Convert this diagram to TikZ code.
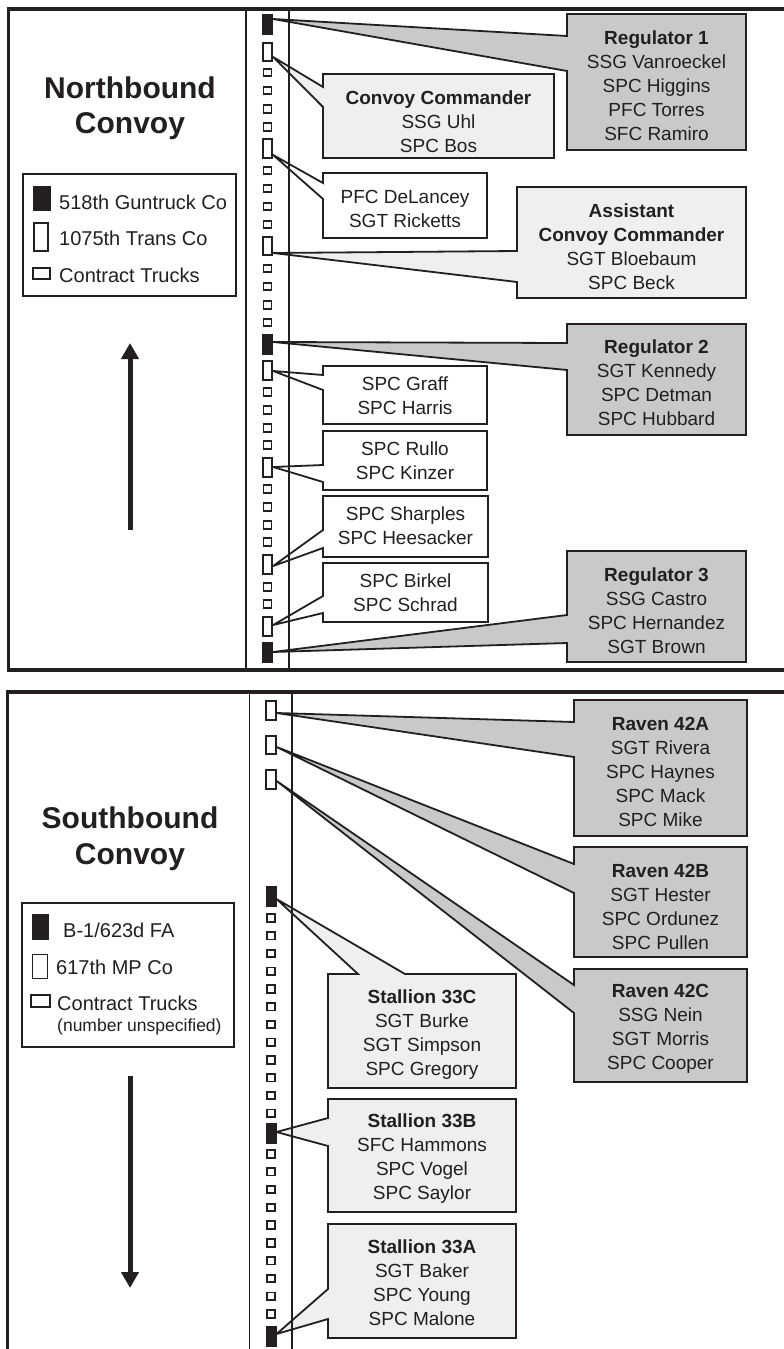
\documentclass[tikz,border=0pt]{standalone}
\usepackage{fontspec}
\setmainfont{Liberation Sans}
\usetikzlibrary{arrows.meta,calc}
\pgfdeclarelayer{bg}
\pgfsetlayers{bg,main}
\definecolor{ink}{RGB}{35,31,32}
\definecolor{darkf}{RGB}{201,201,201}
\definecolor{lightf}{RGB}{238,239,240}
\newcommand\calleft[5]{\path[#1] (#2.north west) -- (#2.north east) -- (#2.south east) -- (#2.south west) -- (#2.west |- 0,#3) -- (#4) -- (#2.west |- 0,#5) -- cycle;}
\begin{document}
\begin{tikzpicture}[x=1bp,y=-1bp,
  truckB/.style={rectangle, draw=ink, fill=ink, line width=1bp, minimum width=10bp, minimum height=20bp, inner sep=0pt},
  truckT/.style={rectangle, draw=ink, fill=white, line width=1.8bp, minimum width=9.5bp, minimum height=18.5bp, inner sep=0pt},
  truckS/.style={rectangle, draw=ink, fill=white, line width=1.8bp, minimum width=8bp, minimum height=7.5bp, inner sep=0pt},
  boxarea/.style={rectangle, inner sep=0pt, outer sep=0pt},
  calltxt/.style={align=center, font=\fontsize{19bp}{24bp}\selectfont, inner sep=0pt, text=ink},
  calloutD/.style={fill=darkf, draw=ink, line width=1.8bp, line join=miter},
  calloutL/.style={fill=lightf, draw=ink, line width=1.8bp, line join=miter},
  calloutW/.style={fill=white, draw=ink, line width=1.8bp, line join=miter},
  legbox/.style={rectangle, draw=ink, fill=white, line width=1.8bp, inner sep=0pt},
  legB/.style={rectangle, draw=ink, fill=ink, line width=1bp, inner sep=0pt},
  legW/.style={rectangle, draw=ink, fill=white, line width=1.7bp, inner sep=0pt},
  legtxt/.style={anchor=west, inner sep=0pt, text=ink, font=\fontsize{20bp}{24bp}\selectfont},
  titletxt/.style={anchor=base, inner sep=0pt, text=ink, font=\bfseries\fontsize{30bp}{35bp}\selectfont},
  frameline/.style={draw=ink, line width=3.5bp, line join=miter},
  thinline/.style={draw=ink, line width=1.4bp},
  bigarrow/.style={draw=ink, line width=5bp, -{Triangle[length=16bp,width=17bp]}}
]
\useasboundingbox (0,0) rectangle (783,1349);

% ---------------- frames ----------------
\draw[frameline] (800,9) -- (8.5,9) -- (8.5,670) -- (800,670);
\draw[frameline] (800,692) -- (7.5,692) -- (7.5,1360);
\draw[thinline] (246,9) -- (246,670);
\draw[thinline] (289,9) -- (289,670);
\draw[thinline] (249.5,692) -- (249.5,1360);
\draw[thinline] (292,692) -- (292,1360);

% ---------------- titles ----------------
\node[titletxt] (ntitle1) at (130,98.7) {Northbound};
\node[titletxt] (ntitle2) at (130,133.7) {Convoy};
\node[titletxt] (stitle1) at (130,828) {Southbound};
\node[titletxt] (stitle2) at (130,864) {Convoy};

% ---------------- legends ----------------
\node[legbox, minimum width=213bp, minimum height=122bp] (nleg) at (129.5,235) {};
\node[legB, minimum width=17bp, minimum height=24bp] (nlegB) at (41.5,199) {};
\node[legW, minimum width=14bp, minimum height=28bp] (nlegT) at (41,237) {};
\node[legW, minimum width=17bp, minimum height=11bp] (nlegS) at (41.5,273.5) {};
\node[legtxt] (nlegBt) at (59,202) {518th Guntruck Co};
\node[legtxt] (nlegTt) at (59,238) {1075th Trans Co};
\node[legtxt] (nlegSt) at (59,275) {Contract Trucks};

\node[legbox, minimum width=212bp, minimum height=144bp] (sleg) at (128,975) {};
\node[legB, minimum width=16bp, minimum height=25bp] (slegB) at (40,926.5) {};
\node[legW, minimum width=15bp, minimum height=24bp] (slegT) at (40,966.5) {};
\node[legW, minimum width=19bp, minimum height=12bp] (slegS) at (40.5,1001) {};
\node[legtxt] (slegBt) at (63,930) {B-1/623d FA};
\node[legtxt] (slegTt) at (56,967) {617th MP Co};
\node[legtxt] (slegSt) at (57,1003) {Contract Trucks};
\node[legtxt, font=\fontsize{17.5bp}{21bp}\selectfont] (slegNt) at (57,1027) {(number unspecified)};

% ---------------- direction arrows ----------------
\coordinate (nup0) at (130,530);
\coordinate (nup1) at (130,343);
\draw[bigarrow] (nup0) -- (nup1);
\coordinate (sdn0) at (130,1076);
\coordinate (sdn1) at (130,1288);
\draw[bigarrow] (sdn0) -- (sdn1);

% ---------------- trucks: northbound ----------------
\foreach \yy/\kk/\nn in {25/B/nb1, 52/T/ncc, 72.5/S/ns1, 90.5/S/ns2, 109/S/ns3, 127/S/ns4,
  148.5/T/ndel, 170.5/S/ns5, 188.5/S/ns6, 206.5/S/ns7, 224.5/S/ns8,
  246/T/nacc, 268.5/S/ns9, 286.5/S/ns10, 305/S/ns11, 322.5/S/ns12,
  344/B/nb2, 370.5/T/ngr, 392/S/ns13, 410/S/ns14, 428/S/ns15, 445/S/ns16,
  467.5/T/nru, 489/S/ns17, 507/S/ns18, 525/S/ns19, 542/S/ns20,
  564.5/T/nsh, 587/S/ns21, 604/S/ns22, 626.5/T/nbi, 652.5/B/nb3}
  \node[truck\kk] (\nn) at (267.5,\yy) {};

% ---------------- trucks: southbound ----------------
\node[truckT] (st1) at (271,710.5) {};
\node[truckT] (st2) at (271,745) {};
\node[truckT] (st3) at (271,779.5) {};
\node[truckB] (sb1) at (271,896) {};
\foreach \i in {0,...,11} \node[truckS] (ssa\i) at (271,{918+17.75*\i}) {};
\node[truckB] (sb2) at (271,1133) {};
\foreach \i in {0,...,9} \node[truckS] (ssb\i) at (271,{1154+17.78*\i}) {};
\node[truckB] (sb3) at (271,1336) {};

% ---------------- callout areas ----------------
\node[boxarea, minimum width=179bp, minimum height=136bp] (reg1) at (656.5,82) {};
\node[boxarea, minimum width=231bp, minimum height=84bp] (cc) at (438.5,116) {};
\node[boxarea, minimum width=164bp, minimum height=65bp] (del) at (405,205.5) {};
\node[boxarea, minimum width=229bp, minimum height=111bp] (acc) at (631.5,242.5) {};
\node[boxarea, minimum width=179bp, minimum height=111bp] (reg2) at (656.5,379.5) {};
\node[boxarea, minimum width=164bp, minimum height=58bp] (gr) at (405,395) {};
\node[boxarea, minimum width=164bp, minimum height=59bp] (ru) at (405,460.5) {};
\node[boxarea, minimum width=165bp, minimum height=61bp] (sh) at (405.5,526.5) {};
\node[boxarea, minimum width=165bp, minimum height=59bp] (bi) at (405.5,592.5) {};
\node[boxarea, minimum width=179bp, minimum height=111bp] (reg3) at (656.5,606.5) {};
\node[boxarea, minimum width=173bp, minimum height=136bp] (r42a) at (660.5,768) {};
\node[boxarea, minimum width=173bp, minimum height=110bp] (r42b) at (660.5,902) {};
\node[boxarea, minimum width=173bp, minimum height=113bp] (r42c) at (660.5,1025.5) {};
\node[boxarea, minimum width=188bp, minimum height=114bp] (s33c) at (422,1031) {};
\node[boxarea, minimum width=188bp, minimum height=113bp] (s33b) at (422,1155.5) {};
\node[boxarea, minimum width=188bp, minimum height=114bp] (s33a) at (422,1281) {};

% ---------------- callout texts ----------------
\node[calltxt] (reg1t) at (reg1.center |- 0,85.5) {\textbf{Regulator 1}\\SSG Vanroeckel\\SPC Higgins\\PFC Torres\\SFC Ramiro};
\node[calltxt] (cct) at (cc.center |- 0,121.5) {\textbf{Convoy Commander}\\SSG Uhl\\SPC Bos};
\node[calltxt] (delt) at (del.center |- 0,208.5) {PFC DeLancey\\SGT Ricketts};
\node[calltxt] (acct) at (acc.center |- 0,247) {\textbf{Assistant}\\\textbf{Convoy Commander}\\SGT Bloebaum\\SPC Beck};
\node[calltxt] (reg2t) at (reg2.center |- 0,383) {\textbf{Regulator 2}\\SGT Kennedy\\SPC Detman\\SPC Hubbard};
\node[calltxt] (grt) at (gr.center |- 0,395.5) {SPC Graff\\SPC Harris};
\node[calltxt] (rut) at (ru.center |- 0,460.5) {SPC Rullo\\SPC Kinzer};
\node[calltxt] (sht) at (sh.center |- 0,526) {SPC Sharples\\SPC Heesacker};
\node[calltxt] (bit) at (bi.center |- 0,593) {SPC Birkel\\SPC Schrad};
\node[calltxt] (reg3t) at (reg3.center |- 0,610.5) {\textbf{Regulator 3}\\SSG Castro\\SPC Hernandez\\SGT Brown};
\node[calltxt] (r42at) at (r42a.center |- 0,771.5) {\textbf{Raven 42A}\\SGT Rivera\\SPC Haynes\\SPC Mack\\SPC Mike};
\node[calltxt] (r42bt) at (r42b.center |- 0,907) {\textbf{Raven 42B}\\SGT Hester\\SPC Ordunez\\SPC Pullen};
\node[calltxt] (r42ct) at (r42c.center |- 0,1029) {\textbf{Raven 42C}\\SSG Nein\\SGT Morris\\SPC Cooper};
\node[calltxt] (s33ct) at (s33c.center |- 0,1034.5) {\textbf{Stallion 33C}\\SGT Burke\\SGT Simpson\\SPC Gregory};
\node[calltxt] (s33bt) at (s33b.center |- 0,1159) {\textbf{Stallion 33B}\\SFC Hammons\\SPC Vogel\\SPC Saylor};
\node[calltxt] (s33at) at (s33a.center |- 0,1283) {\textbf{Stallion 33A}\\SGT Baker\\SPC Young\\SPC Malone};

% ---------------- pointer tips ----------------
\coordinate (treg1) at (nb1.east |- 0,19);
\coordinate (tcc) at (ncc.east |- 0,57);
\coordinate (tdel) at (ndel.east |- 0,155);
\coordinate (tacc) at (nacc.east |- 0,253);
\coordinate (treg2) at (nb2.east |- 0,342);
\coordinate (tgr) at (ngr.east |- 0,371);
\coordinate (tru) at (nru.east |- 0,467);
\coordinate (tsh) at (nsh.east |- 0,566);
\coordinate (tbi) at (nbi.east |- 0,625);
\coordinate (treg3) at (nb3.east |- 0,652);
\coordinate (tr42a) at (st1.east |- 0,713);
\coordinate (tr42b) at (st2.east |- 0,747);
\coordinate (tr42c) at (st3.east |- 0,781);
\coordinate (ts33c) at (sb1.east |- 0,899);
\coordinate (ts33b) at (sb2.east |- 0,1132);
\coordinate (ts33a) at (sb3.east |- 0,1334);

% ---------------- callout shapes ----------------
\begin{pgfonlayer}{bg}
\calleft{calloutD}{reg1}{71}{treg1}{36}
\calleft{calloutL}{cc}{107}{tcc}{87}
\calleft{calloutW}{del}{199}{tdel}{183}
\calleft{calloutL}{acc}{282}{tacc}{251}
\calleft{calloutD}{reg2}{370}{treg2}{343}
\calleft{calloutW}{gr}{390}{tgr}{375}
\calleft{calloutW}{ru}{482}{tru}{465}
\calleft{calloutW}{sh}{548}{tsh}{530}
\calleft{calloutW}{bi}{613}{tbi}{596}
\calleft{calloutD}{reg3}{643}{treg3}{615}
\calleft{calloutD}{r42a}{757}{tr42a}{722}
\calleft{calloutD}{r42b}{893}{tr42b}{864}
\calleft{calloutD}{r42c}{1013}{tr42c}{985}
\path[calloutL] (s33c.north west) -- (s33c.north west -| 358,0) -- (ts33c) -- (s33c.north west -| 405,0) -- (s33c.north east) -- (s33c.south east) -- (s33c.south west) -- cycle;
\calleft{calloutL}{s33b}{1146}{ts33b}{1118}
\calleft{calloutL}{s33a}{1319}{ts33a}{1289}
\end{pgfonlayer}
\end{tikzpicture}
\end{document}
